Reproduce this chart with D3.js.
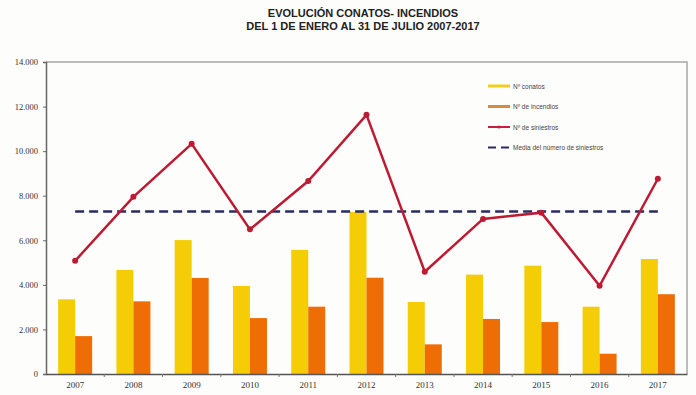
<!DOCTYPE html>
<html>
<head>
<meta charset="utf-8">
<script src="https://cdn.jsdelivr.net/npm/d3@7"></script>
<style>
  body { margin: 0; background: #fdfdfb; }
  svg { display: block; }
</style>
</head>
<body>
<svg width="696" height="395"></svg>
<script>
var years = ['2007','2008','2009','2010','2011','2012','2013','2014','2015','2016','2017'];
var conatos = [3350, 4670, 6010, 3950, 5570, 7270, 3230, 4460, 4860, 3020, 5160];
var incendios = [1700, 3260, 4310, 2510, 3020, 4320, 1330, 2470, 2330, 910, 3580];
var siniestros = [5080, 7950, 10330, 6490, 8660, 11630, 4590, 6960, 7240, 3960, 8760];
var media = 7290;
var yTicks = [0, 2000, 4000, 6000, 8000, 10000, 12000, 14000];

var legendItems = [
  { label: 'Nº conatos', color: '#f2cd1c', type: 'bar' },
  { label: 'Nº de incendios', color: '#d98a3a', type: 'bar' },
  { label: 'Nº de siniestros', color: '#c4203a', type: 'line' },
  { label: 'Media del número de siniestros', color: '#2a2b63', type: 'dash' }
];

var svg = d3.select('svg');
var plotL = 46, plotR = 687, plotT = 62, plotB = 374;

// titles
svg.append('text')
  .attr('x', 363).attr('y', 17)
  .attr('text-anchor', 'middle')
  .style('font', 'bold 11px "Liberation Sans", Arial, sans-serif')
  .style('fill', '#222')
  .text('EVOLUCIÓN CONATOS- INCENDIOS');
svg.append('text')
  .attr('x', 363).attr('y', 30)
  .attr('text-anchor', 'middle')
  .style('font', 'bold 11px "Liberation Sans", Arial, sans-serif')
  .style('fill', '#222')
  .text('DEL 1 DE ENERO AL 31 DE JULIO 2007-2017');

var x = d3.scaleBand().domain(years).range([plotL, plotR]);
var xi = d3.scaleBand().domain(['c', 'i']).range([0, 34]);
var y = d3.scaleLinear().domain([0, 14000]).range([plotB, plotT]);

// plot frame (top and right)
svg.append('path')
  .attr('d', 'M' + plotL + ',' + plotT + 'H' + plotR + 'V' + plotB)
  .attr('fill', 'none')
  .attr('stroke', '#a8a8a8')
  .attr('stroke-width', 1.5);

// bars
var groups = svg.selectAll('g.year')
  .data(years)
  .enter()
  .append('g')
  .attr('class', 'year')
  .attr('transform', function(d){ return 'translate(' + (x(d) + x.bandwidth() / 2 - 17) + ',0)'; });

groups.append('rect')
  .attr('x', xi('c'))
  .attr('width', xi.bandwidth())
  .attr('y', function(d, i){ return y(conatos[i]); })
  .attr('height', function(d, i){ return plotB - y(conatos[i]); })
  .style('fill', '#f5cd06');

groups.append('rect')
  .attr('x', xi('i'))
  .attr('width', xi.bandwidth())
  .attr('y', function(d, i){ return y(incendios[i]); })
  .attr('height', function(d, i){ return plotB - y(incendios[i]); })
  .style('fill', '#ee6d05');

// axes
var yAxis = d3.axisLeft(y).tickValues(yTicks).tickSize(3)
  .tickFormat(function(d){ return d === 0 ? '0' : d3.format(',')(d).replace(',', '.'); });
var gy = svg.append('g').attr('transform', 'translate(' + plotL + ',0)').call(yAxis);
gy.select('.domain').attr('stroke', '#666').attr('stroke-width', 1.5);
gy.selectAll('line').attr('stroke', '#666');
gy.selectAll('text')
  .attr('x', -8)
  .style('font', '8.5px "Liberation Serif", "Times New Roman", serif')
  .style('fill', '#333');

var gx = svg.append('g').attr('transform', 'translate(0,' + plotB + ')')
  .call(d3.axisBottom(x).tickSize(0).tickPadding(8));
gx.select('.domain').attr('stroke', '#555').attr('stroke-width', 1.5);
gx.selectAll('text')
  .style('font', '9px "Liberation Serif", "Times New Roman", serif')
  .style('fill', '#333');
gx.selectAll('line.sep')
  .data(years.slice(1))
  .enter()
  .append('line')
  .attr('class', 'sep')
  .attr('x1', function(d){ return x(d); })
  .attr('x2', function(d){ return x(d); })
  .attr('y1', 0).attr('y2', 3)
  .attr('stroke', '#777');

// mean line
svg.append('line')
  .attr('x1', x(years[0]) + x.bandwidth() / 2)
  .attr('x2', x(years[years.length - 1]) + x.bandwidth() / 2)
  .attr('y1', y(media)).attr('y2', y(media))
  .attr('stroke', '#2a2b63')
  .attr('stroke-width', 2.5)
  .attr('stroke-dasharray', '9,5');

// siniestros line
var line = d3.line()
  .x(function(d, i){ return x(years[i]) + x.bandwidth() / 2; })
  .y(function(d){ return y(d); });

svg.append('path')
  .datum(siniestros)
  .attr('d', line)
  .attr('fill', 'none')
  .attr('stroke', '#bd1a33')
  .attr('stroke-width', 2.5)
  .attr('stroke-linejoin', 'miter');

svg.selectAll('circle.pt')
  .data(siniestros)
  .enter()
  .append('circle')
  .attr('class', 'pt')
  .attr('cx', function(d, i){ return x(years[i]) + x.bandwidth() / 2; })
  .attr('cy', function(d){ return y(d); })
  .attr('r', 3)
  .style('fill', '#bd1a33');

// legend
var lg = svg.selectAll('g.legend')
  .data(legendItems)
  .enter()
  .append('g')
  .attr('class', 'legend')
  .attr('transform', function(d, i){ return 'translate(488,' + (86 + i * 20.5) + ')'; });

lg.append('line')
  .attr('x1', 0).attr('x2', function(d){ return d.type === 'dash' ? 23 : 22; })
  .attr('y1', 0).attr('y2', 0)
  .attr('stroke', function(d){ return d.color; })
  .attr('stroke-width', function(d){ return d.type === 'bar' ? 3 : 2; })
  .attr('stroke-dasharray', function(d){ return d.type === 'dash' ? '8,5' : null; });

lg.filter(function(d){ return d.type === 'line'; })
  .append('circle')
  .attr('cx', 11).attr('cy', 0).attr('r', 1.6)
  .style('fill', function(d){ return d.color; });

lg.append('text')
  .attr('x', 25).attr('y', 2.5)
  .style('font', '6.5px "Liberation Sans", Arial, sans-serif')
  .style('fill', '#444')
  .text(function(d){ return d.label; });
</script>
</body>
</html>
